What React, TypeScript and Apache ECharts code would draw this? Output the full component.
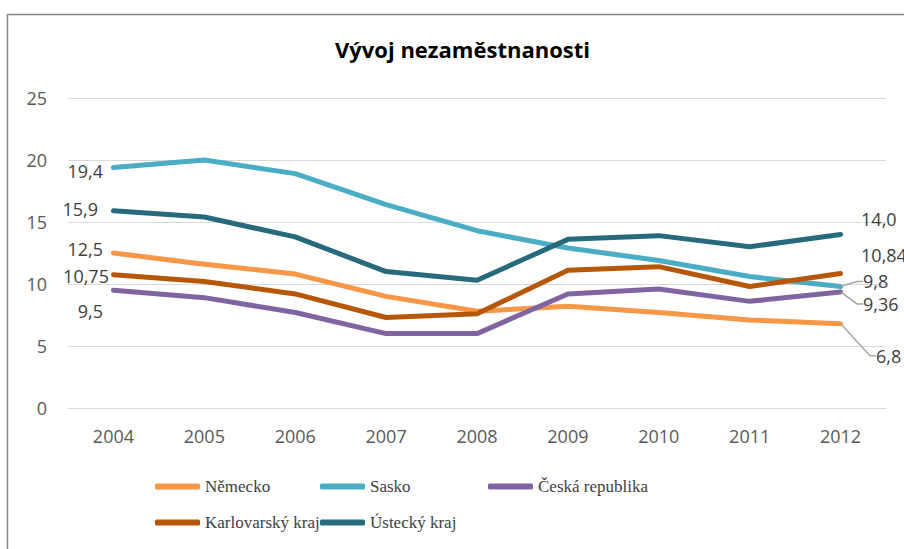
import React, { useEffect, useRef } from "react";
import * as echarts from "echarts";

const years = ["2004", "2005", "2006", "2007", "2008", "2009", "2010", "2011", "2012"];
const nemecko = [12.5, 11.6, 10.8, 9.0, 7.8, 8.2, 7.7, 7.1, 6.8];
const sasko = [19.4, 20.0, 18.9, 16.4, 14.3, 12.9, 11.9, 10.6, 9.8];
const ceska = [9.5, 8.9, 7.7, 6.0, 6.0, 9.2, 9.6, 8.6, 9.36];
const karlovarsky = [10.75, 10.2, 9.2, 7.3, 7.6, 11.1, 11.4, 9.8, 10.84];
const ustecky = [15.9, 15.4, 13.8, 11.0, 10.3, 13.6, 13.9, 13.0, 14.0];
const firstLabels = ["12,5", "19,4", "9,5", "10,75", "15,9"];
const lastLabels = ["6,8", "9,8", "9,36", "10,84", "14,0"];

const names = ["Německo", "Sasko", "Česká republika", "Karlovarský kraj", "Ústecký kraj"];
const colors = ["#F79646", "#4BACC6", "#8064A2", "#B65708", "#276A7C"];
const values = [nemecko, sasko, ceska, karlovarsky, ustecky];

// label placement (styling only, no data)
const firstLabelCfg = [
  { distance: 10, dx: 0, dy: -4 },
  { distance: 10, dx: 0, dy: 4 },
  { distance: 10, dx: 0, dy: 21 },
  { distance: 4, dx: 0, dy: 1 },
  { distance: 15, dx: 0, dy: -2 },
];
const lastLabelCfg: any[] = [
  { distance: 8, dx: 27, dy: 32, line: true },
  { distance: 8, dx: 14, dy: -5, line: true },
  { distance: 8, dx: 14, dy: 12, line: true },
  { distance: 20, dx: 0, dy: -19, line: false },
  { distance: 20, dx: 0, dy: -15, line: false },
];

const labelFont = { fontFamily: "Open Sans", fontSize: 18, color: "#404040", lineHeight: 18 };
const serif = "'Liberation Serif', 'DejaVu Serif', 'Times New Roman', serif";

export default function App() {
  const ref = useRef<HTMLDivElement>(null);
  useEffect(() => {
    if (!ref.current) return;
    const chart = echarts.init(ref.current, null, { renderer: "svg" });
    const series = values.map((vals, si) => ({
      name: names[si],
      type: "line",
      data: vals.map((v, i) => {
        if (i === 0) {
          return {
            value: v,
            label: {
              show: true,
              position: "left",
              formatter: firstLabels[si],
              distance: firstLabelCfg[si].distance,
              ...labelFont,
            },
          };
        }
        if (i === vals.length - 1) {
          const c = lastLabelCfg[si];
          return {
            value: v,
            label: {
              show: true,
              position: "right",
              formatter: lastLabels[si],
              distance: c.distance,
              ...labelFont,
            },
            labelLine: c.line
              ? { show: true, length2: 6, lineStyle: { color: "#a6a6a6", width: 1.5 } }
              : { show: false },
          };
        }
        return v;
      }),
      symbol: "circle",
      symbolSize: 1,
      showSymbol: true,
      lineStyle: { color: colors[si], width: 5, cap: "round", join: "round" },
      itemStyle: { color: colors[si] },
      labelLayout: (p: any) => {
        if (p.dataIndex === 0) {
          const c = firstLabelCfg[si];
          return { dx: c.dx, dy: c.dy };
        }
        if (p.dataIndex === vals.length - 1) {
          const c = lastLabelCfg[si];
          return { dx: c.dx, dy: c.dy };
        }
        return {};
      },
    }));

    const legendPos = [
      { left: 150, top: 473 },
      { left: 315, top: 473 },
      { left: 483, top: 473 },
      { left: 150, top: 509 },
      { left: 315, top: 509 },
    ];

    chart.setOption({
      animation: false,
      backgroundColor: "#ffffff",
      title: {
        text: "Vývoj nezaměstnanosti",
        left: 330,
        top: 33,
        textStyle: { fontFamily: "Open Sans", fontWeight: "bold", fontSize: 22, color: "#000000" },
      },
      graphic: [
        {
          type: "rect",
          left: 5,
          top: 12,
          shape: { width: 1000, height: 1000 },
          style: { fill: "none", stroke: "#868686", lineWidth: 1.5 },
          silent: true,
        },
      ],
      legend: names.map((n, i) => ({
        data: [n],
        left: legendPos[i].left,
        top: legendPos[i].top,
        icon: "roundRect",
        itemWidth: 45,
        itemHeight: 6,
        itemGap: 0,
        textStyle: { fontFamily: serif, fontSize: 17, color: "#404040" },
      })),
      grid: { left: 68, right: 18, top: 98, bottom: 141, containLabel: false },
      xAxis: {
        type: "category",
        data: years,
        boundaryGap: true,
        axisLine: { show: true, lineStyle: { color: "#d9d9d9", width: 1 } },
        axisTick: { show: false },
        axisLabel: { fontFamily: "Open Sans", fontSize: 18, color: "#595959", margin: 19 },
      },
      yAxis: {
        type: "value",
        min: 0,
        max: 25,
        interval: 5,
        axisLine: { show: false },
        axisTick: { show: false },
        splitLine: { lineStyle: { color: "#d9d9d9", width: 1 } },
        axisLabel: { fontFamily: "Open Sans", fontSize: 18, color: "#595959", margin: 21 },
      },
      series,
    });
    return () => chart.dispose();
  }, []);
  return (
    <div
      ref={ref}
      style={{ position: "absolute", left: 0, top: 0, width: 904, height: 549 }}
    />
  );
}
